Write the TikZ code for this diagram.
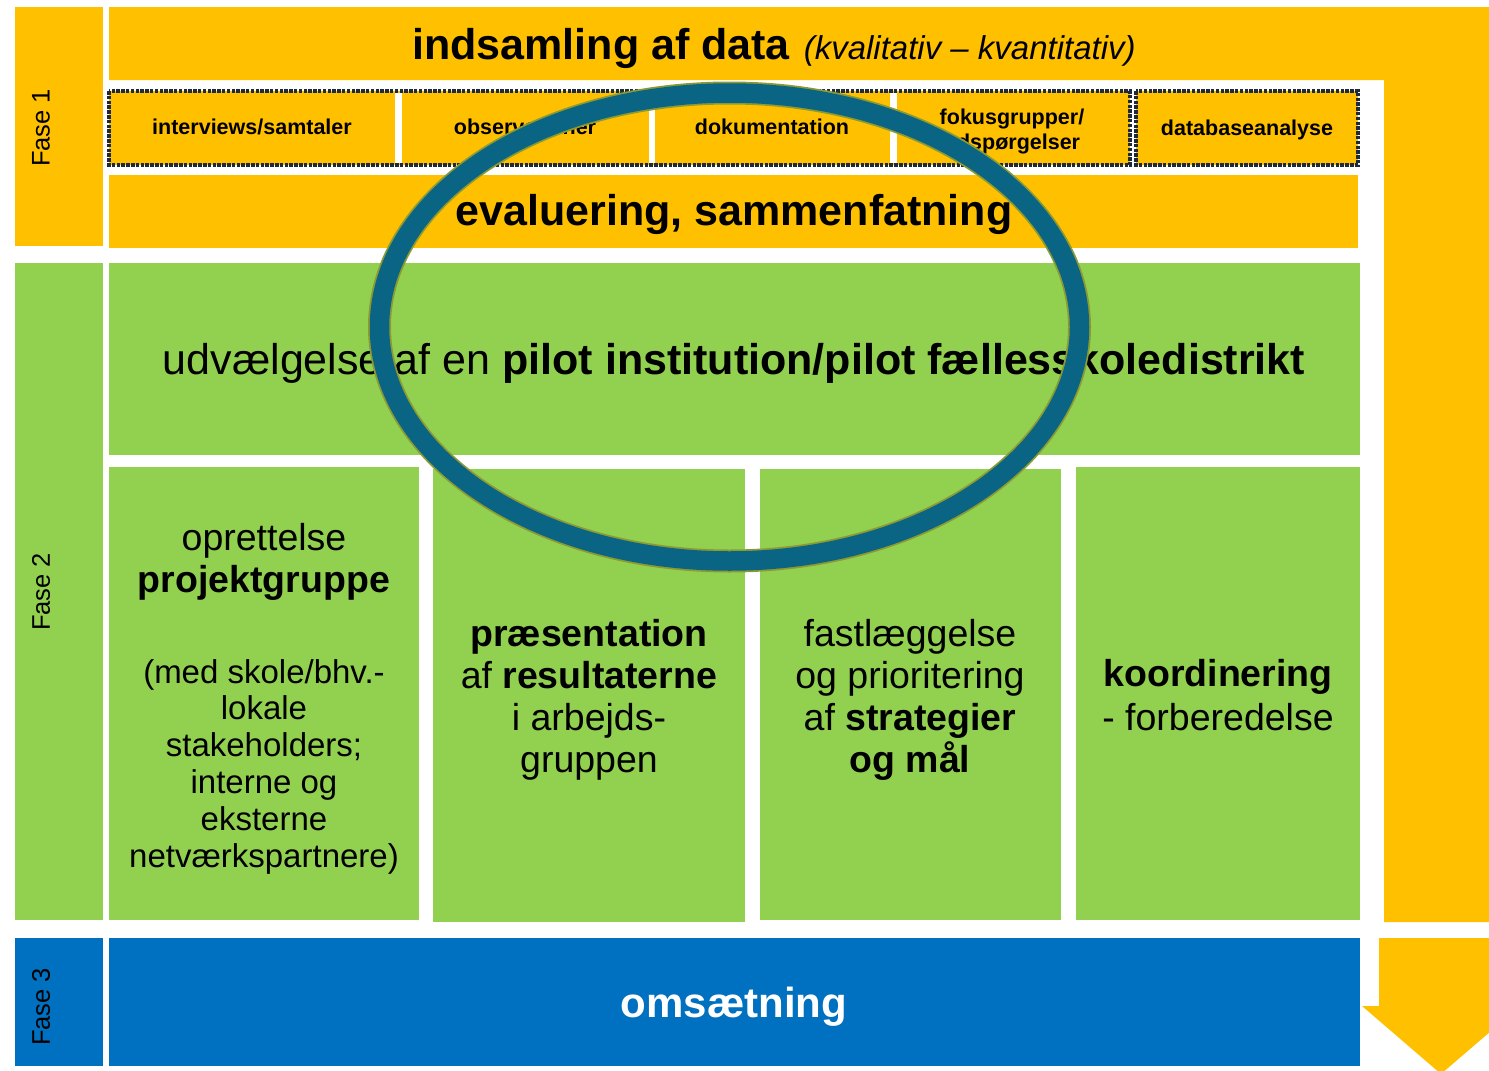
\documentclass[tikz,border=0pt]{standalone}
\usepackage{fontspec}
\setmainfont{Liberation Sans}
\definecolor{fyellow}{HTML}{FFC000}
\definecolor{fgreen}{HTML}{92D050}
\definecolor{fblue}{HTML}{0070C0}
\definecolor{fteal}{HTML}{0A6585}
\definecolor{folive}{HTML}{8C9A33}
\definecolor{fdash}{HTML}{1C2A3C}
\newcommand{\fsz}[1]{\fontsize{#1}{#1}\selectfont}
\begin{document}
\begin{tikzpicture}[x=1pt,y=-1pt,
  txt/.style={inner sep=0pt, outer sep=0pt, anchor=base},
  big/.style={txt, font={\fsz{43}}},
  cell/.style={txt, font={\fsz{21.5}\bfseries}},
  col/.style={txt, font={\fsz{37.5}}},
  small/.style={txt, font={\fsz{33}}},
  fase/.style={inner sep=0pt, outer sep=0pt, anchor=center, rotate=90, font={\fsz{25.5}}},
  dashbox/.style={draw=fdash, line width=3.4pt, dash pattern=on 3.5pt off 1.3pt}]
\useasboundingbox (0,0) rectangle (1489,1071);
\clip (0,0) rectangle (1489,1071);
% Fase 1 area
\fill[fyellow] (15,7) rectangle (103,246);
\fill[fyellow] (109,7) -- (1520,7) -- (1520,922) -- (1384,922) -- (1384,80) -- (109,80) -- cycle;
\fill[fyellow] (109,91) rectangle (1130,165);
\fill[white] (395,93) rectangle (402,163);
\fill[white] (649,93) rectangle (655,163);
\fill[white] (890,93) rectangle (897,163);
\fill[fyellow] (1136,91) rectangle (1358,165);
\draw[dashbox] (109,91) rectangle (1130,165);
\draw[dashbox] (1136,91) rectangle (1358,165);
\fill[fyellow] (109,175) rectangle (1358,248);
% Fase 2 area
\fill[fgreen] (15,263) rectangle (103,920);
\fill[fgreen] (109,263) rectangle (1360,455);
\fill[fgreen] (109,467) rectangle (419,920);
\fill[fgreen] (433,469) rectangle (745,922);
\fill[fgreen] (760,469) rectangle (1061,920);
\fill[fgreen] (1076,467) rectangle (1360,920);
% Fase 3 area
\fill[fblue] (15,938) rectangle (103,1066);
\fill[fblue] (109,938) rectangle (1360,1066);
\fill[fyellow] (1379,938) -- (1503,938) -- (1503,1006) -- (1520,1006) -- (1441,1074) -- (1362,1006) -- (1379,1006) -- cycle;
% labels
\node[fase] (f1) at (41,128) {Fase 1};
\node[fase] (f2) at (41,592) {Fase 2};
\node[fase] (f3) at (41,1007) {Fase 3};
\node[txt] (title) at (774,59) {{\fsz{43}\bfseries indsamling af data}\hspace{14pt}{\fsz{33}\itshape (kvalitativ – kvantitativ)}};
\node[cell] (c1) at (252,134) {interviews/samtaler};
\node[cell] (c2) at (525,134) {observationer};
\node[cell] (c3) at (772,134) {dokumentation};
\node[cell] (c4a) at (1012,124) {fokusgrupper/};
\node[cell] (c4b) at (1012,149) {udspørgelser};
\node[cell] (c5) at (1247,135) {databaseanalyse};
\node[big, font={\fsz{43}\bfseries}] (eval) at (734,225) {evaluering, sammenfatning};
\node[big] (pilot) at (734,374) {udvælgelse af en \textbf{pilot institution/pilot fællesskoledistrikt}};
\node[big, font={\fsz{42}\bfseries}, text=white] (oms) at (734,1017) {omsætning};
% column 1
\node[col] (a1) at (264,550) {oprettelse};
\node[col, font={\fsz{37.5}\bfseries}] (a2) at (264,592) {projektgruppe};
\node[small] (a3) at (264,683) {(med skole/bhv.-};
\node[small] (a4) at (264,719) {lokale};
\node[small] (a5) at (264,756) {stakeholders;};
\node[small] (a6) at (264,793) {interne og};
\node[small] (a7) at (264,830) {eksterne};
\node[small] (a8) at (264,867) {netværkspartnere)};
% column 2
\node[col, font={\fsz{37.5}\bfseries}] (b1) at (589,646) {præsentation};
\node[col] (b2) at (589,688) {af \textbf{resultaterne}};
\node[col] (b3) at (589,730) {i arbejds-};
\node[col] (b4) at (589,772) {gruppen};
% column 3
\node[col] (d1) at (910,646) {fastlæggelse};
\node[col] (d2) at (910,688) {og prioritering};
\node[col] (d3) at (910,730) {af \textbf{strategier}};
\node[col, font={\fsz{37.5}\bfseries}] (d4) at (910,772) {og mål};
% column 4
\node[col, font={\fsz{37.5}\bfseries}] (e1) at (1218,686) {koordinering};
\node[col] (e2) at (1218,730) {- forberedelse};
% ring
\draw[folive, line width=23pt] (729.5,327) ellipse [x radius=350pt, y radius=234pt];
\draw[fteal, line width=19.5pt] (729.5,327) ellipse [x radius=350pt, y radius=234pt];
\end{tikzpicture}
\end{document}
